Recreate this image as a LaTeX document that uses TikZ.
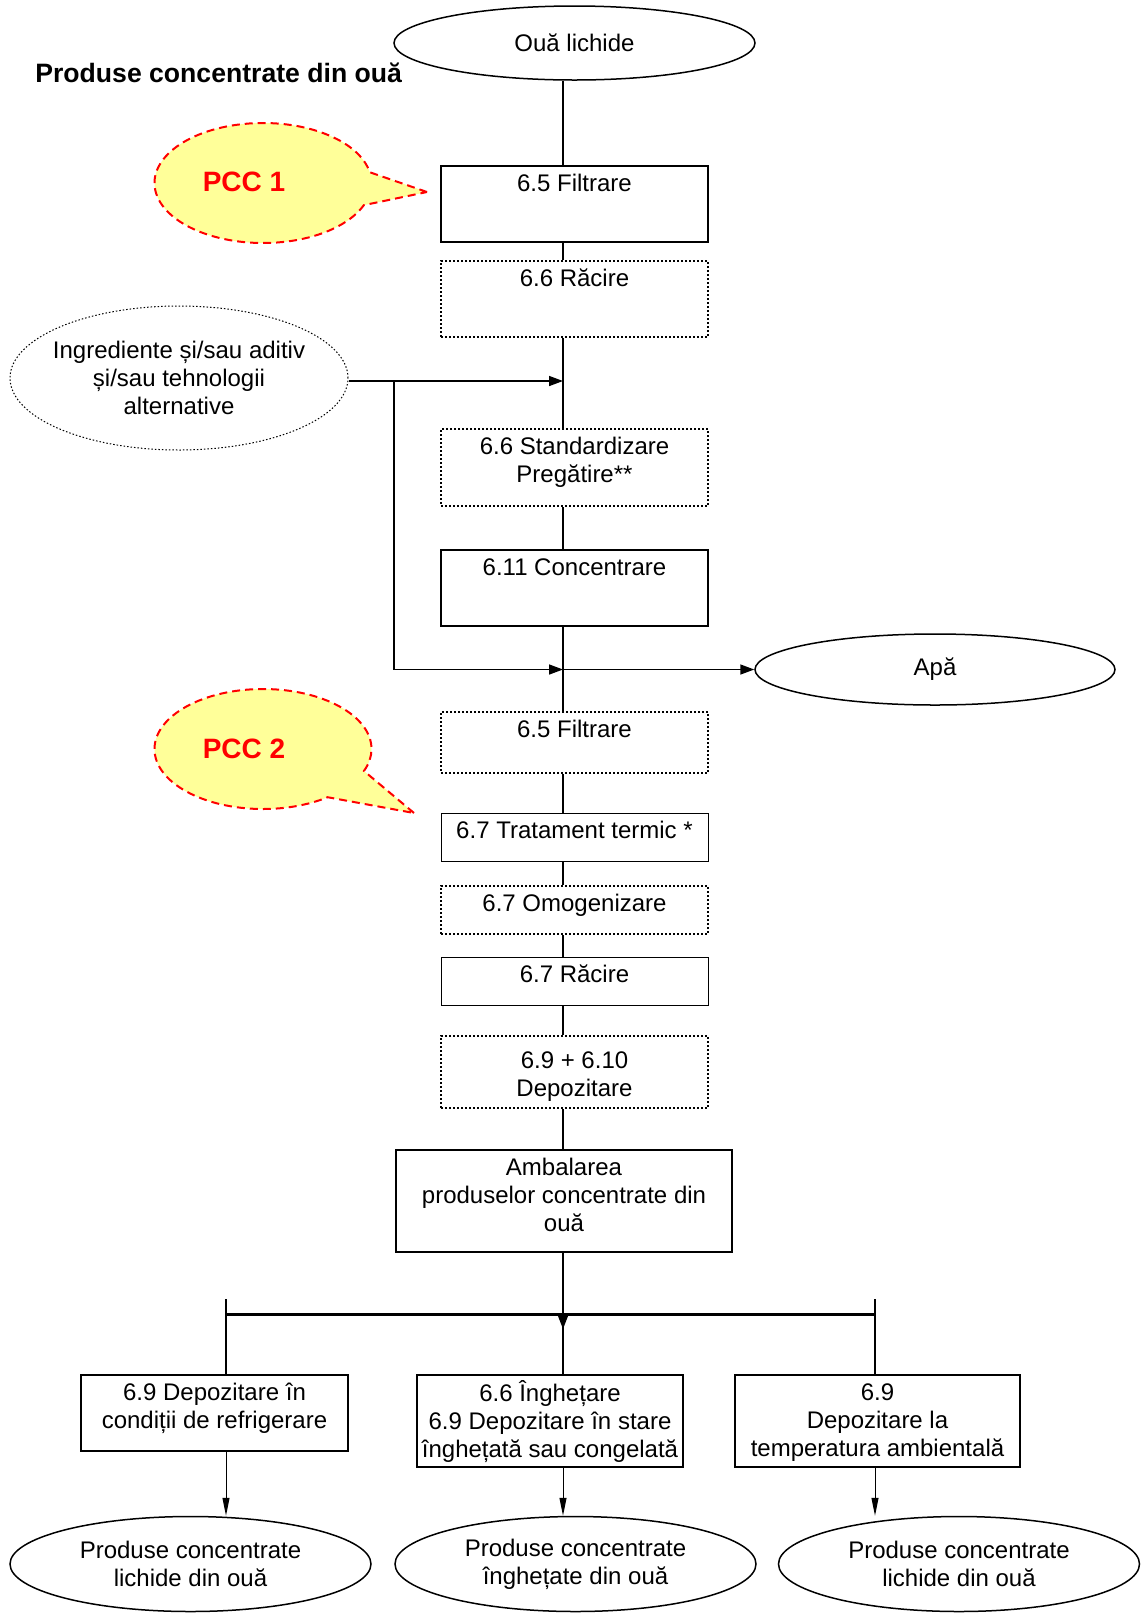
\documentclass[tikz,border=0pt]{standalone}
\usepackage{fontspec}
\setmainfont{Liberation Sans}
\usepackage{xcolor}
\usepackage{tikz}
\usetikzlibrary{positioning,arrows.meta,shapes.geometric,shapes.callouts,calc}
\definecolor{pccyellow}{HTML}{FFFF99}
\newcommand{\toptxt}[4][9.7pt]{\parbox[t][#3][t]{#2}{\centering\rule{0pt}{#1}#4}}

\begin{document}
\begin{tikzpicture}[x=0.5pt, y=-0.5pt, font=\fontsize{12}{13.9}\selectfont,
  box/.style={draw, line width=1pt, anchor=north, inner xsep=0pt, inner ysep=3pt},
  thinbox/.style={box, line width=0.5pt},
  dotbox/.style={box, densely dotted},
  oval/.style={draw, ellipse, line width=0.75pt, inner sep=0pt, align=center, minimum width=180.5pt},
  link/.style={line width=0.75pt},
  flow/.style={link, -{Triangle[length=7pt,width=5pt]}},
  flowdn/.style={line width=0.5pt, -{Triangle[length=9pt,width=3.5pt]}},
  pcc/.style={ellipse callout, draw=red, fill=pccyellow, dash pattern=on 4pt off 2.5pt, line width=1pt, minimum width=108.5pt, minimum height=60pt, callout pointer arc=32},
  pcclab/.style={text=red, font=\fontsize{14}{16}\selectfont\bfseries}]
\useasboundingbox (0,0) rectangle (1141,1613);
\coordinate (spine) at (563,0);

\node[oval, minimum height=37pt] (oua) at (574.5,43) {Ouă lichide};
\node[anchor=west, inner sep=0pt, font=\fontsize{13.3}{15}\selectfont\bfseries] (titlu) at (35,73) {Produse concentrate din ouă};

% flux principal
\node[box] (filt1) at (574.5,165) {\toptxt{133.5pt}{32pt}{6.5 Filtrare}};
\node[dotbox] (rac1) at (574.5,260) {\toptxt{133.5pt}{32pt}{6.6 Răcire}};
\node[oval, densely dotted, line width=0.5pt, inner xsep=-6pt, minimum width=169pt, minimum height=72pt] (ingr) at (179,378) {Ingrediente și/sau aditiv\\și/sau tehnologii\\alternative};
\node[dotbox] (std) at (574.5,428) {\toptxt{133.5pt}{32.5pt}{6.6 Standardizare\\Pregătire**}};
\node[box] (conc) at (574.5,549) {\toptxt{133.5pt}{32pt}{6.11 Concentrare}};
\node[oval, minimum width=180pt, minimum height=35.5pt] (apa) at (935,669.5) {Apă};
\node[dotbox] (filt2) at (574.5,711) {\toptxt{133.5pt}{24.5pt}{6.5 Filtrare}};
\node[thinbox] (trat) at (574.5,813) {\toptxt{133.5pt}{18pt}{6.7 Tratament termic *}};
\node[dotbox] (omog) at (574.5,885) {\toptxt{133.5pt}{18pt}{6.7 Omogenizare}};
\node[thinbox] (rac2) at (574.5,957) {\toptxt{133.5pt}{18pt}{6.7 Răcire}};
\node[dotbox] (depoz) at (574.5,1035) {\toptxt[13.2pt]{133.5pt}{30pt}{6.9 + 6.10\\Depozitare}};
\node[box] (amb) at (564,1149) {\toptxt{168pt}{45pt}{Ambalarea\\produselor concentrate din\\ouă}};

% depozitare si produse finale
\node[box] (depR) at (214.5,1374) {\toptxt{133.5pt}{32pt}{6.9 Depozitare în\\condiții de refrigerare}};
\node[box] (depI) at (550,1374) {\toptxt{133pt}{40pt}{6.6 Înghețare\\6.9 Depozitare în stare\\înghețată sau congelată}};
\node[box] (depA) at (877.5,1374) {\toptxt{142.5pt}{40pt}{6.9\\Depozitare la\\temperatura ambientală}};
\node[oval, minimum height=47.5pt] (prodL) at (190.5,1564) {Produse concentrate\\lichide din ouă};
\node[oval, minimum height=47.5pt] (prodI) at (575.5,1564) {Produse concentrate\\\smash{î}nghe\smash{ț}ate din ouă};
\node[oval, minimum height=47.5pt] (prodA) at (959,1564) {Produse concentrate\\lichide din ouă};

% puncte critice de control
\node[pcc, callout absolute pointer={(427,192)}] (pcc1) at (263,183) {};
\node[pcclab] (pcc1lab) at (244,182) {PCC 1};
\node[pcc, callout absolute pointer={(414,813)}] (pcc2) at (263,749) {};
\node[pcclab] (pcc2lab) at (244,749) {PCC 2};

% legaturi
\draw[link] (spine |- oua.south) -- (spine |- filt1.north);
\foreach \p/\q in {filt1/rac1, rac1/std, std/conc, conc/filt2, filt2/trat, trat/omog, omog/rac2, rac2/depoz, depoz/amb}
  \draw[link] (spine |- \p.south) -- (spine |- \q.north);

\coordinate (brk) at (394,0);
\coordinate (ingin) at ($(ingr.east)+(0,3)$);
\draw[flow] (ingin) -- (spine |- ingin);
\draw[link] (brk |- ingin) -- (brk |- apa.west);
\draw[flow] (brk |- apa.west) -- (spine |- apa.west);
\draw[flow] (spine |- apa.west) -- (apa.west);

\coordinate (bar) at (563,1314);
\coordinate (tapL) at (226,1299);
\coordinate (tapR) at (875,1299);
\draw[link] (tapL) -- (tapL |- depR.north);
\draw[link] (tapR) -- (tapR |- depA.north);
\draw[line width=1.5pt] (tapL |- bar) -- (tapR |- bar);
\draw[link, -{Triangle[length=8pt,width=6pt]}] (spine |- amb.south) -- ($(spine |- bar)+(0,15)$);
\draw[link] (spine |- bar) -- (spine |- depI.north);
\draw[flowdn] (tapL |- depR.south) -- (tapL |- prodL.north);
\draw[flowdn] (spine |- depI.south) -- (spine |- prodI.north);
\draw[flowdn] (tapR |- depA.south) -- (tapR |- prodA.north);
\end{tikzpicture}
\end{document}
